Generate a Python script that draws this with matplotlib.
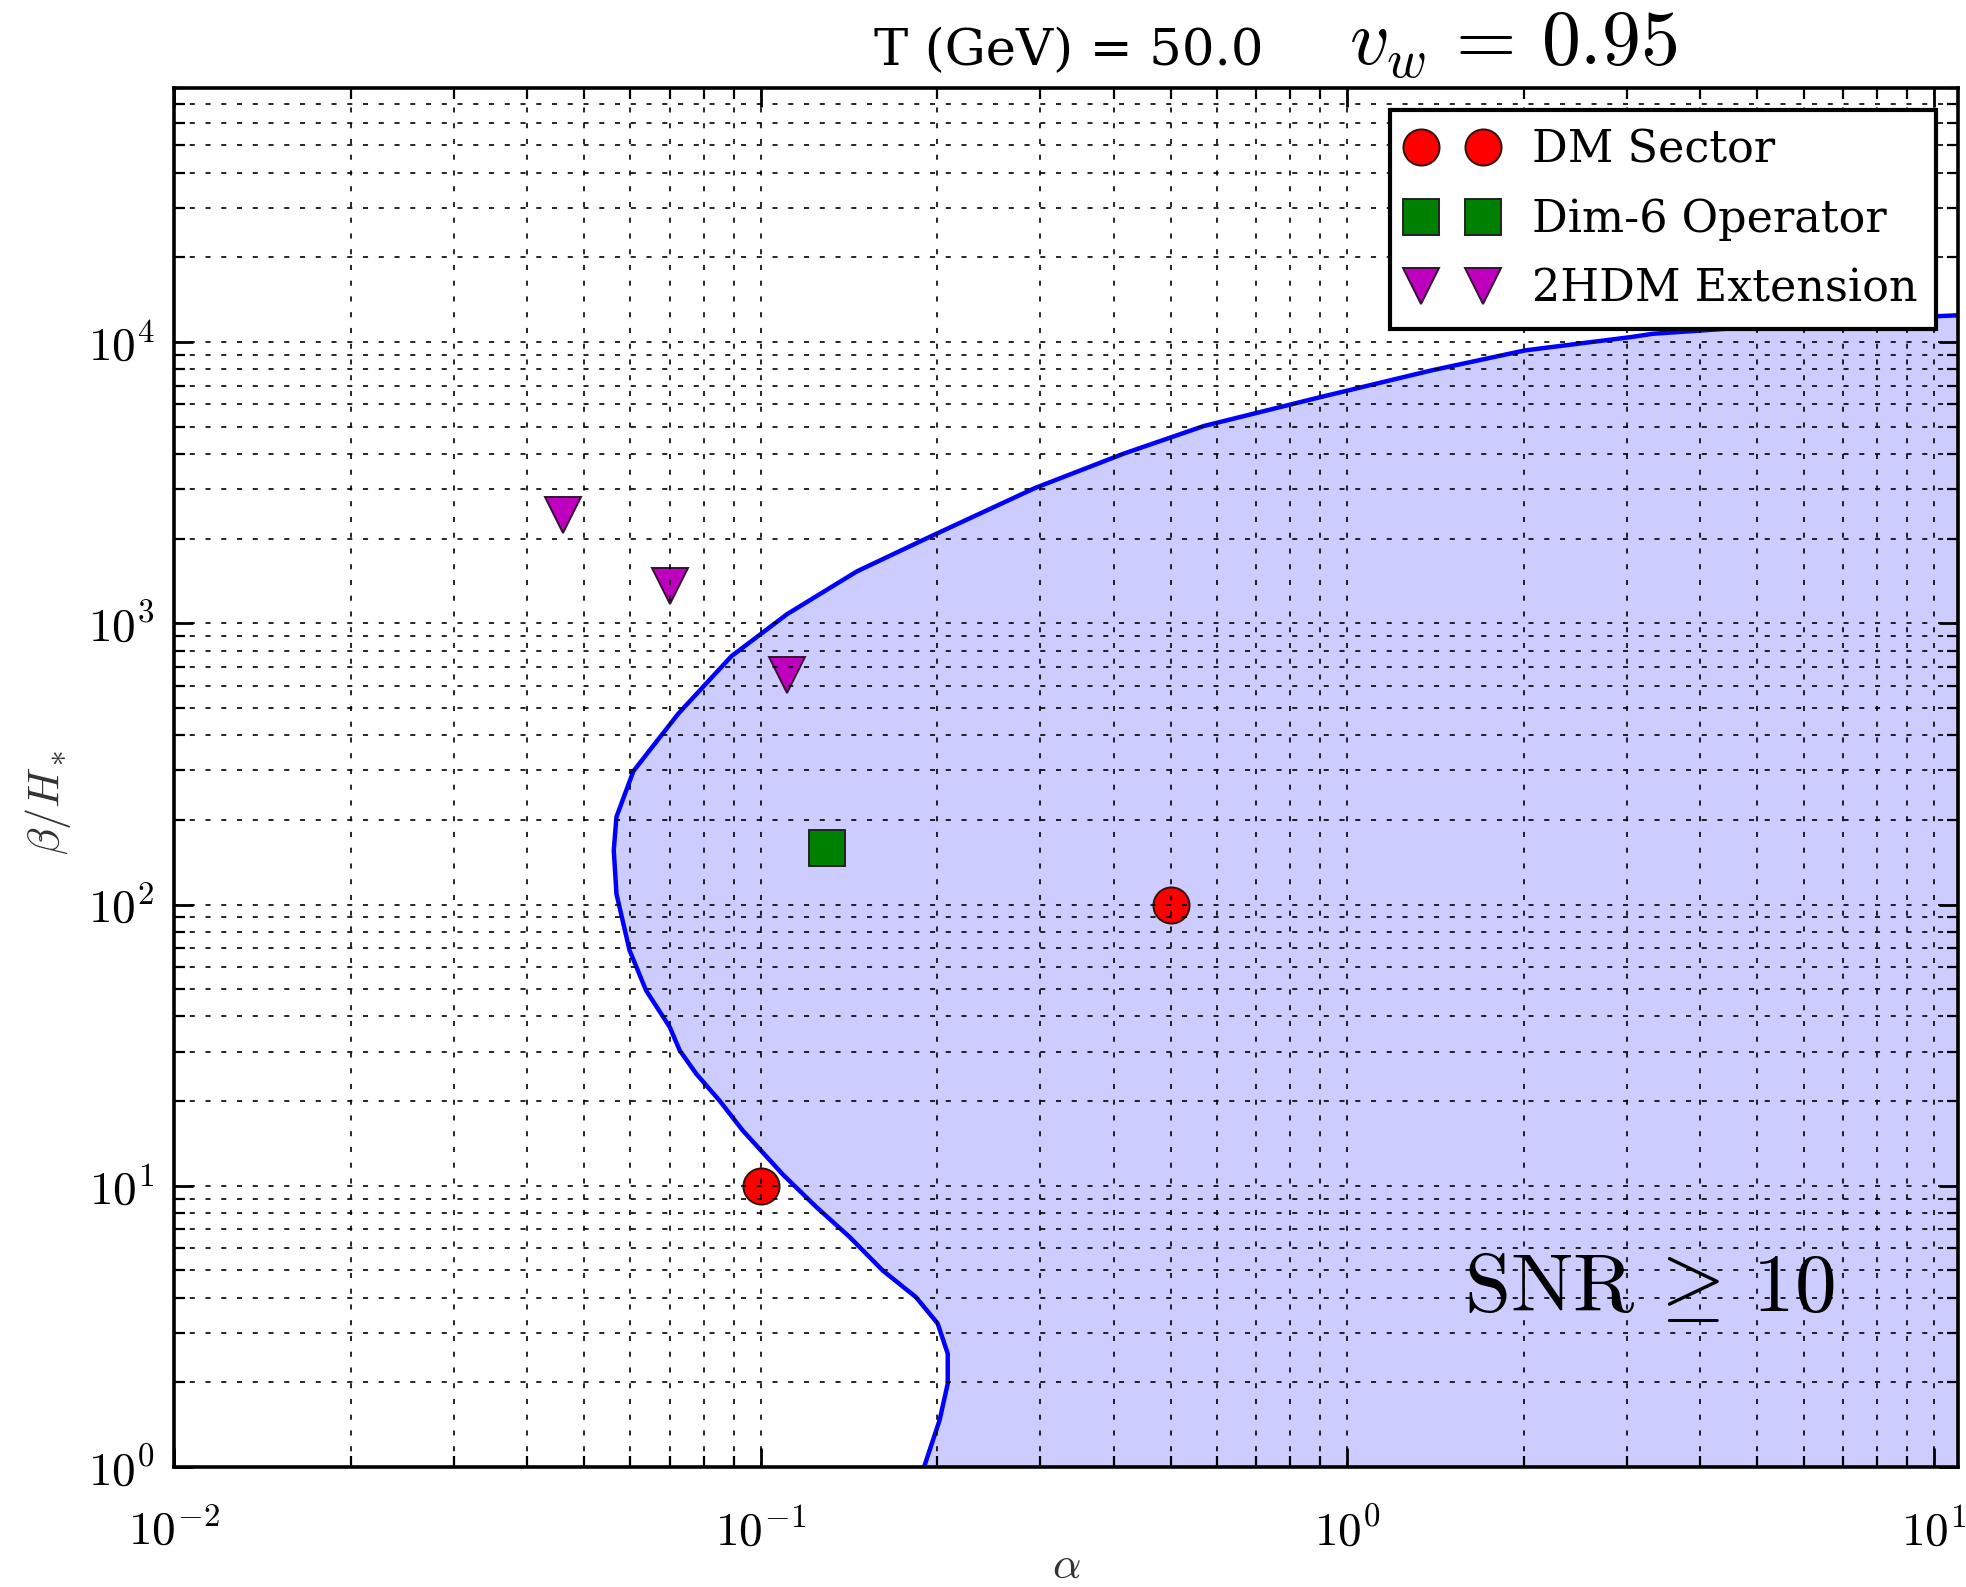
import numpy as np
import matplotlib
matplotlib.use("Agg")
import matplotlib.pyplot as plt
from matplotlib.ticker import LogLocator, FuncFormatter, NullFormatter

plt.rcParams['mathtext.fontset'] = 'cm'
plt.rcParams['font.family'] = ['DejaVu Serif']

# SNR >= 10 boundary (alpha as a function of beta/H*)
beta_curve = [1.0, 1.47, 1.98, 2.53, 3.24, 4.02, 5.0, 6.58, 8.4, 11.0, 15.7, 20.1,
              25.0, 30.3, 36.7, 49.5, 68.7, 109, 156, 205, 298, 477, 764, 1078,
              1530, 2016, 3030, 4018, 5030, 6374, 7925, 9340, 10410, 10700,
              11500, 12100, 12450]
alpha_curve = [0.190, 0.202, 0.2085, 0.2085, 0.2004, 0.184, 0.1615, 0.1418, 0.1245,
               0.109, 0.0933, 0.0851, 0.0777, 0.0728, 0.0700, 0.0638, 0.0598,
               0.0568, 0.0562, 0.0568, 0.0607, 0.0724, 0.0892, 0.111, 0.146,
               0.193, 0.294, 0.417, 0.57, 0.901, 1.391, 2.01, 3.04, 3.32, 5.5,
               8.0, 11.0]

# benchmark points
dm_alpha = [0.1, 0.5]
dm_beta = [10, 100]
dim6_alpha = [0.13]
dim6_beta = [159]
thdm_alpha = [0.046, 0.070, 0.111]
thdm_beta = [2430, 1360, 653]

xmin, xmax = 1e-2, 11
ymin, ymax = 1, 8e4

fig = plt.figure(figsize=(9.83, 7.935), dpi=200)
ax = fig.add_axes([0.0885, 0.0756, 0.9074, 0.8689])

ax.fill_betweenx(beta_curve, alpha_curve, xmax, color='#ccccff', lw=0)
ax.plot(alpha_curve, beta_curve, color='#0000ff', lw=1.6)

ax.plot(dm_alpha, dm_beta, 'o', color='red', ms=13, mec='#331111', mew=0.7,
        label='DM Sector')
ax.plot(dim6_alpha, dim6_beta, 's', color=(0, 0.5, 0), ms=13, mec='#222222', mew=0.7,
        label='Dim-6 Operator')
ax.plot(thdm_alpha, thdm_beta, 'v', color=(0.75, 0, 0.75), ms=13, mec='#331133',
        mew=0.7, label='2HDM Extension')

ax.set_xscale('log')
ax.set_yscale('log')
ax.set_xlim(xmin, xmax)
ax.set_ylim(ymin, ymax)

fmt = FuncFormatter(lambda v, p: r'$10^{%d}$' % int(round(np.log10(v))))
for axis in (ax.xaxis, ax.yaxis):
    axis.set_major_locator(LogLocator(base=10))
    axis.set_minor_locator(LogLocator(base=10, subs=np.arange(2, 10)))
    axis.set_major_formatter(fmt)
    axis.set_minor_formatter(NullFormatter())

ax.set_axisbelow(False)
ax.grid(True, which='both', color='k', linestyle=(0, (2.6, 5.5)), linewidth=0.7,
        alpha=0.85)
ax.tick_params(which='both', direction='in', top=True, right=True)
ax.tick_params(which='major', length=7, width=1, labelsize=17, pad=7)
ax.tick_params(axis='x', which='major', pad=15)
ax.tick_params(which='minor', length=4, width=0.8)
for s in ax.spines.values():
    s.set_linewidth(1.3)

ax.set_xlabel(r'$\alpha$', fontsize=16, color='#333333', va='center')
ax.xaxis.set_label_coords(0.5, -0.071)
ax.set_ylabel(r'$\beta/H_*$', fontsize=16, color='#333333', va='center')
ax.yaxis.set_label_coords(-0.0706, 0.482)

ax.text(1.58, 3.6, r'$\mathrm{SNR}\,\geq\,10$', fontsize=30, va='baseline')

fig.text(0.4446, 0.959, 'T (GeV) = 50.0', fontsize=18.5, va='baseline')
fig.text(0.686, 0.959, r'$v_w\,=\,0.95$', fontsize=28, va='baseline')

leg = ax.legend(loc='upper right', numpoints=2, fontsize=16, fancybox=False,
                handlelength=2, labelspacing=0.6, borderaxespad=0.5,
                framealpha=1)
leg.get_frame().set_edgecolor('k')
leg.get_frame().set_linewidth(1.5)

fig.savefig('out.png', dpi=200, facecolor='white')
